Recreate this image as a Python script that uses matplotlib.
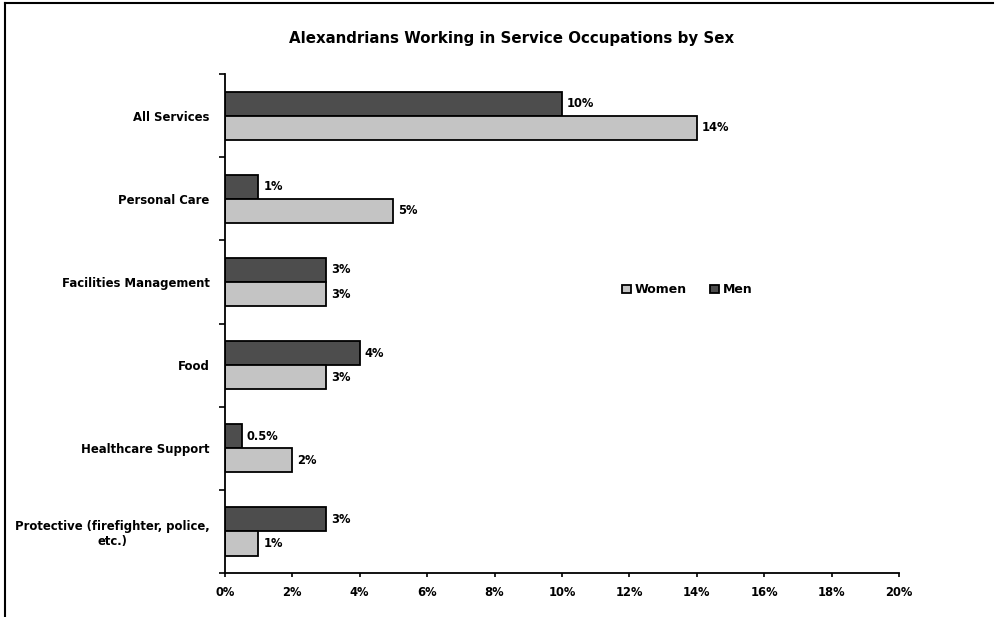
import matplotlib.pyplot as plt
import numpy as np

plt.rcParams['font.family'] = ['DejaVu Sans']

categories = ['All Services', 'Personal Care', 'Facilities Management', 'Food',
              'Healthcare Support', 'Protective (firefighter, police,\netc.)']
men = [10, 1, 3, 4, 0.5, 3]
women = [14, 5, 3, 3, 2, 1]
men_labels = ['10%', '1%', '3%', '4%', '0.5%', '3%']
women_labels = ['14%', '5%', '3%', '3%', '2%', '1%']
xticks = np.arange(0, 21, 2)

fig = plt.figure(figsize=(9.99, 6.17), dpi=100)
ax = fig.add_axes([0.225, 0.0713, 0.675, 0.8087])

y = np.arange(len(categories))
h = 0.29
bm = ax.barh(y - h / 2, men, height=h, color='#4d4d4d', edgecolor='black', linewidth=1.3, label='Men')
bw = ax.barh(y + h / 2, women, height=h, color='#c4c4c4', edgecolor='black', linewidth=1.3, label='Women')

for bar, lab in zip(bm, men_labels):
    ax.text(bar.get_width() + 0.15, bar.get_y() + bar.get_height() / 2, lab,
            va='center', ha='left', fontsize=8.3, fontweight='bold')
for bar, lab in zip(bw, women_labels):
    ax.text(bar.get_width() + 0.15, bar.get_y() + bar.get_height() / 2, lab,
            va='center', ha='left', fontsize=8.3, fontweight='bold')

ax.set_ylim(len(categories) - 0.5, -0.5)
ax.set_xlim(0, 20)
ax.set_xticks(xticks)
ax.set_xticklabels([f'{t}%' for t in xticks], fontsize=8.3, fontweight='bold')
ax.set_yticks(y)
ax.set_yticklabels(categories, fontsize=8.4, fontweight='bold', multialignment='center')
ax.tick_params(axis='y', length=0, pad=11)
ax.set_yticks(np.arange(-0.5, len(categories), 1), minor=True)
ax.tick_params(axis='y', which='minor', length=4, width=1.2)
ax.tick_params(axis='x', length=3, width=1.2, pad=6)
for s in ['top', 'right']:
    ax.spines[s].set_visible(False)
for s in ['left', 'bottom']:
    ax.spines[s].set_linewidth(1.3)

fig.text(0.512, 0.937, 'Alexandrians Working in Service Occupations by Sex',
         ha='center', va='center', fontsize=10.8, fontweight='bold')

handles = [bw, bm]
fig.legend(handles, ['Women', 'Men'], loc='center', bbox_to_anchor=(0.688, 0.53), ncol=2,
           frameon=False, handlelength=0.7, handleheight=0.7, handletextpad=0.3,
           columnspacing=1.9, prop={'size': 9, 'weight': 'bold'})

# outer frame lines (left and top)
fig.add_artist(plt.Line2D([0.005, 0.005], [0.0, 0.995], color='black', linewidth=1.5))
fig.add_artist(plt.Line2D([0.005, 0.994], [0.995, 0.995], color='black', linewidth=1.5))

fig.savefig('out.png', dpi=100)
